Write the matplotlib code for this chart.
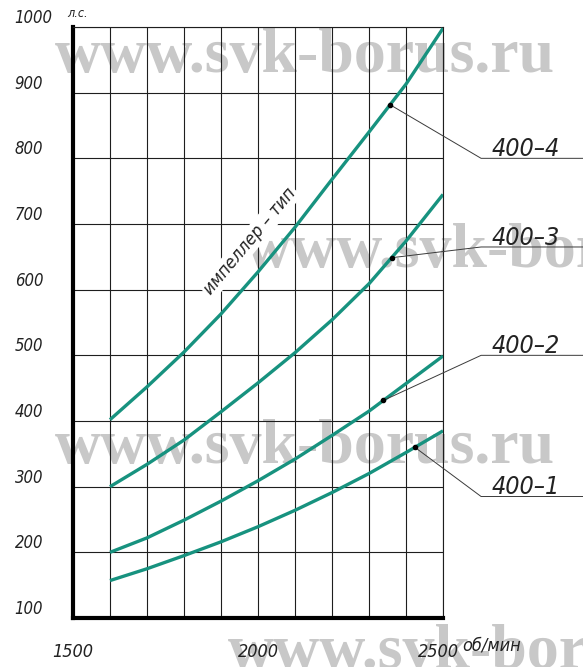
import numpy as np
import matplotlib
matplotlib.use('Agg')
import matplotlib.pyplot as plt
import matplotlib.transforms as mtransforms

# shaft speed, rpm
rpm = [1600, 1700, 1800, 1900, 2000, 2100, 2200, 2300, 2400, 2500]

# power, h.p., for each impeller
hp_400_1 = [157, 175, 195, 216, 239, 264, 291, 320, 352, 385]
hp_400_2 = [200, 222, 249, 278, 309, 342, 378, 415, 457, 499]
hp_400_3 = [300, 334, 371, 414, 458, 504, 554, 609, 674, 745]
hp_400_4 = [402, 452, 505, 563, 627, 695, 768, 840, 913, 998]

curves = [hp_400_1, hp_400_2, hp_400_3, hp_400_4]
names = ['400–1', '400–2', '400–3', '400–4']
leader_rpm = [2424, 2339, 2361, 2357]   # where each leader touches its curve
shelf_hp = [285, 500, 665, 800]         # level of the leader shelf

x_ticks = [1500, 2000, 2500]
x_labels = ['1500', '2000', '2500']
y_ticks = [100, 200, 300, 400, 500, 600, 700, 800, 900, 1000]
y_labels = [str(v) for v in y_ticks]

FONT = dict(family='DejaVu Sans', stretch='condensed', style='italic', color='#222')
TEAL = '#17927f'

fig = plt.figure(figsize=(5.83, 6.67), dpi=100)
fig.patch.set_facecolor('white')
ax = fig.add_axes([73 / 583, 49 / 667, 370 / 583, 591 / 667])
ax.patch.set_alpha(0)

ax.set_xlim(1500, 2500)
ax.set_ylim(100, 1000)

# grid every 100 rpm and every 100 h.p.
ax.set_xticks(x_ticks)
ax.set_yticks(y_ticks)
ax.set_xticks(range(1600, 2501, 100), minor=True)
ax.set_yticks(range(200, 1001, 100), minor=True)
ax.grid(which='both', color='#1e1e1e', lw=0.8)
ax.tick_params(which='both', length=0)

ax.set_xticklabels(x_labels, fontsize=13, **FONT)
ax.tick_params(axis='x', pad=18)
# pull the last speed label a little left to make room for the unit
last = ax.get_xticklabels()[-1]
last.set_transform(last.get_transform() +
                   mtransforms.ScaledTranslation(-5 / 100, 0, fig.dpi_scale_trans))

ax.set_yticklabels(y_labels, fontsize=12, ha='left', va='bottom', **FONT)
ax.tick_params(axis='y', pad=42)

for side in ['left', 'bottom']:
    ax.spines[side].set_linewidth(3)
    ax.spines[side].set_color('black')
for side in ['top', 'right']:
    ax.spines[side].set_linewidth(0.8)
    ax.spines[side].set_color('#1e1e1e')

for hp in curves:
    ax.plot(rpm, hp, color=TEAL, lw=2.4, solid_capstyle='butt', zorder=3)

# leaders with series names
for hp, name, r, shelf in zip(curves, names, leader_rpm, shelf_hp):
    h = np.interp(r, rpm, hp)
    ax.plot([r, 2603, 2900], [h, shelf, shelf], color='#3a3a3a', lw=0.7,
            clip_on=False, zorder=4)
    ax.plot([r], [h], 'o', color='black', ms=3, zorder=5)
    ax.annotate(name, xy=(2632, shelf), xytext=(0, 1.5), textcoords='offset points',
                fontsize=18, ha='left', va='baseline', annotation_clip=False, **FONT)

ax.text(1978, 674, 'импеллер – тип', rotation=50, rotation_mode='anchor',
        ha='center', va='center', fontsize=13, zorder=2,
        bbox=dict(boxstyle='square,pad=0.1', fc='white', ec='none'), **FONT)

ax.annotate('об/мин', xy=(1, 0), xycoords='axes fraction', xytext=(14, -13),
            textcoords='offset points', ha='left', va='top', fontsize=13, **FONT)
ax.annotate('л.с.', xy=(0, 1), xycoords='axes fraction', xytext=(-4, 5),
            textcoords='offset points', ha='left', va='bottom', fontsize=9, **FONT)

# site watermarks
wm = dict(fontsize=46, family='Liberation Serif', weight='bold', color='#c8c8c8',
          zorder=-1, va='baseline', ha='left')
fig.text(55 / 583, 1 - 72 / 667, 'www.svk-borus.ru', **wm)
fig.text(245 / 583, 1 - 267 / 667, 'www.svk-borus.ru', **wm)
fig.text(55 / 583, 1 - 463 / 667, 'www.svk-borus.ru', **wm)
fig.text(228 / 583, 1 - 668 / 667, 'www.svk-borus.ru', **wm)

fig.savefig('out.png', dpi=100)
